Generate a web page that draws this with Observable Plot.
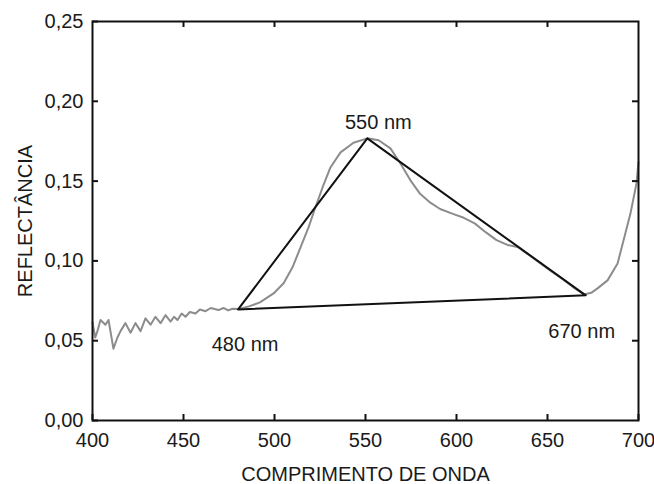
<!DOCTYPE html>
<html><head><meta charset="utf-8">
<script src="https://cdn.jsdelivr.net/npm/d3@7"></script>
<script src="https://cdn.jsdelivr.net/npm/@observablehq/plot@0.6"></script>
<style>body{margin:0;background:#fff;}</style>
</head><body><div id="chart"></div>
<script>
// Reflectance spectrum
const wavelength = [400, 401.5, 402.7, 404.4, 407.1, 408.8, 411.5, 413.7, 415.4, 418.1, 420.9, 423.6, 426.4, 429.1, 431.9, 434.6, 437.4, 440.1, 442.9, 444.8, 446.7, 449, 451.1, 453.5, 456.6, 459, 462.1, 465, 469.2, 472, 474.5, 476.9, 480, 486, 492, 499.5, 505, 509.9, 514.3, 518.7, 522.5, 526.4, 530.8, 536.3, 543.4, 551, 557.2, 563.7, 569.2, 574.7, 580, 585, 591, 598, 604, 610, 616, 622, 628, 634, 640, 646, 652, 658, 664, 670, 674, 677.5, 683, 688.5, 691.8, 695.6, 698.9, 700];
const reflectance = [0.0614, 0.052, 0.056, 0.063, 0.060, 0.063, 0.045, 0.052, 0.056, 0.061, 0.055, 0.061, 0.056, 0.064, 0.060, 0.065, 0.061, 0.066, 0.062, 0.065, 0.063, 0.067, 0.065, 0.068, 0.067, 0.0695, 0.0685, 0.0705, 0.0692, 0.0705, 0.0690, 0.0700, 0.0698, 0.0715, 0.074, 0.0796, 0.086, 0.096, 0.1085, 0.121, 0.1336, 0.146, 0.1587, 0.168, 0.174, 0.1768, 0.1756, 0.1705, 0.161, 0.1505, 0.142, 0.137, 0.1325, 0.1295, 0.127, 0.1235, 0.118, 0.113, 0.110, 0.1085, 0.1035, 0.0985, 0.0935, 0.0888, 0.0836, 0.0790, 0.0800, 0.0828, 0.0878, 0.0984, 0.1129, 0.1298, 0.1486, 0.162];

// Triangle vertices
const vertexWavelength = [480, 551, 671];
const vertexReflectance = [0.0696, 0.1768, 0.0784];
const vertexLabels = ["480 nm", "550 nm", "670 nm"];

// Axes
const xTicks = [400, 450, 500, 550, 600, 650, 700];
const yTicks = [0, 0.05, 0.10, 0.15, 0.20, 0.25];
const xTitle = "COMPRIMENTO DE ONDA";
const yTitle = "REFLECTÂNCIA";

const spectrum = wavelength.map((w, i) => ({w, r: reflectance[i]}));
const vertices = vertexWavelength.map((w, i) => ({w, r: vertexReflectance[i], label: vertexLabels[i]}));
const triangle = [...vertices, vertices[0]];
const labelOffsets = [[7, 35], [11, -16], [-4, 36]];

const W = 654, H = 484, mL = 92, mR = 16, mT = 21, mB = 64;
const plotW = W - mL - mR, plotH = H - mT - mB, tick = 6;
const fmtY = d => d.toFixed(2).replace(".", ",");

const chart = Plot.plot({
  width: W, height: H,
  marginLeft: mL, marginRight: mR, marginTop: mT, marginBottom: mB,
  style: {fontFamily: "'Liberation Sans', Arial, sans-serif", fontSize: "20px", color: "#1a1a1a", background: "#fff"},
  x: {domain: [400, 700]},
  y: {domain: [0, 0.25]},
  marks: [
    Plot.line(spectrum, {x: "w", y: "r", stroke: "#8c8c8c", strokeWidth: 2}),
    Plot.line(triangle, {x: "w", y: "r", stroke: "#111", strokeWidth: 2}),
    ...vertices.map((v, i) => Plot.text([v], {x: "w", y: "r", text: "label", dx: labelOffsets[i][0], dy: labelOffsets[i][1], fontSize: 20, fill: "#1a1a1a"})),
    // inward ticks on all four sides
    Plot.tickX(xTicks, {x: d => d, insetTop: plotH - tick, stroke: "#111", strokeWidth: 2}),
    Plot.tickX(xTicks.slice(1, -1), {x: d => d, insetBottom: plotH - tick, stroke: "#111", strokeWidth: 2}),
    Plot.tickY(yTicks, {y: d => d, insetRight: plotW - tick, stroke: "#111", strokeWidth: 2}),
    Plot.tickY(yTicks.slice(1, -1), {y: d => d, insetLeft: plotW - tick, stroke: "#111", strokeWidth: 2}),
    Plot.frame({stroke: "#111", strokeWidth: 2}),
    Plot.axisX(xTicks, {anchor: "bottom", tickSize: 0, tickPadding: 12, tickFormat: d => String(d), label: xTitle, labelAnchor: "center", labelOffset: 60, labelArrow: false, fontSize: 20}),
    Plot.axisY(yTicks, {anchor: "left", tickSize: 0, tickPadding: 9, tickFormat: fmtY, label: yTitle, labelAnchor: "center", labelOffset: 75, labelArrow: false, fontSize: 20})
  ]
});
document.getElementById("chart").appendChild(chart);
</script>
</body></html>
